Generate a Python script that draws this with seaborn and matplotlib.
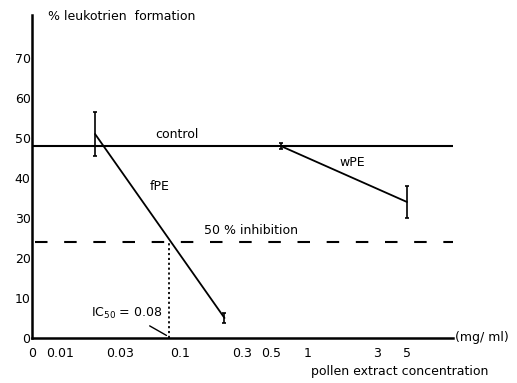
import numpy as np
import pandas as pd
import matplotlib
matplotlib.use("Agg")
import matplotlib.pyplot as plt
import seaborn as sns

# ---- data ----
tick_values = [0, 0.01, 0.03, 0.1, 0.3, 0.5, 1, 3, 5]
tick_labels = ["0", "0.01", "0.03", "0.1", "0.3", "0.5", "1", "3", "5"]
y_ticks = [0, 10, 20, 30, 40, 50, 60, 70]

fpe_conc = [0.019, 0.22]
fpe_val = [51, 5]
fpe_err = [5.5, 1.2]

wpe_conc = [0.6, 5]
wpe_val = [48, 34]
wpe_err = [0.8, 4.0]

control = 48
half_inhibition = 24
ic50 = 0.08

# ---- hand-drawn concentration axis (positions of the printed ticks) ----
anchor_vals = np.array([0.01, 0.03, 0.1, 0.3, 0.5, 1, 3, 5, 100])
anchor_pos = np.array([60, 120, 180, 242, 271, 308, 377, 407, 576], dtype=float)
anchor_log = np.log10(anchor_vals)


def fwd(x):
    x = np.asarray(x, dtype=float)
    lx = np.log10(np.maximum(x, 0.01))
    out = np.interp(lx, anchor_log, anchor_pos, left=anchor_pos[0], right=anchor_pos[-1])
    lin = 32 + 28 * (x / 0.01)
    return np.where(x < 0.01, lin, out)


def inv(p):
    p = np.asarray(p, dtype=float)
    out = 10 ** np.interp(p, anchor_pos, anchor_log)
    lin = (p - 32) / 28 * 0.01
    return np.where(p < 60, lin, out)


sns.set_theme(style="white")
plt.rcParams["font.family"] = ["DejaVu Sans"]
plt.rcParams["text.color"] = "black"
FS = 9

W, H = 517, 383
fig = plt.figure(figsize=(W / 100, H / 100), dpi=100)
ax = fig.add_axes([32 / W, 45 / H, (453 - 32) / W, (338 - 15) / H])
ax.set_xscale("function", functions=(fwd, inv))
ax.set_xlim(0, 11.3)
ax.set_ylim(0, 80.75)

df_f = pd.DataFrame({"conc": fpe_conc, "val": fpe_val})
df_w = pd.DataFrame({"conc": wpe_conc, "val": wpe_val})
sns.lineplot(data=df_f, x="conc", y="val", ax=ax, color="black", lw=1.3)
sns.lineplot(data=df_w, x="conc", y="val", ax=ax, color="black", lw=1.3)
ax.errorbar(fpe_conc, fpe_val, yerr=fpe_err, fmt="none", ecolor="black",
            elinewidth=1.2, capsize=1.5, capthick=1.2)
ax.errorbar(wpe_conc, wpe_val, yerr=wpe_err, fmt="none", ecolor="black",
            elinewidth=1.2, capsize=1.5, capthick=1.2)

ax.axhline(control, color="black", lw=1.5)
ax.axhline(half_inhibition, xmin=0.008, xmax=1.0, color="black", lw=1.5,
           linestyle=(0, (6, 8)))
ax.vlines(ic50, 0, half_inhibition, color="black", lw=1.3, linestyles=(0, (1.2, 1.5)))


def fpx(x, y):
    return (x / W, 1 - y / H)


ax.annotate("IC$_{50}$ = 0.08", xy=(ic50, 0.3), xytext=fpx(127, 313),
            textcoords="figure fraction", ha="center", va="center", fontsize=FS,
            color="black",
            arrowprops=dict(arrowstyle="-", color="black", lw=1.0,
                            shrinkA=3, shrinkB=2))

fig.text(*fpx(177, 134), "control", fontsize=FS, ha="center", va="center")
fig.text(*fpx(160, 187), "fPE", fontsize=FS, ha="center", va="center")
fig.text(*fpx(352, 162), "wPE", fontsize=FS, ha="center", va="center")
fig.text(*fpx(251, 230), "50 % inhibition", fontsize=FS, ha="center", va="center")

ax.set_xticks(tick_values)
ax.set_xticklabels(tick_labels)
ax.set_yticks(y_ticks)
ax.tick_params(axis="both", length=0, labelsize=FS, colors="black")
ax.tick_params(axis="x", pad=6.5)
ax.tick_params(axis="y", pad=1)
ax.minorticks_off()

for s in ["top", "right"]:
    ax.spines[s].set_visible(False)
for s in ["left", "bottom"]:
    ax.spines[s].set_color("black")
    ax.spines[s].set_linewidth(1.8)

ax.set_xlabel("")
ax.set_ylabel("")
fig.text(*fpx(48, 17), "% leukotrien  formation", fontsize=FS, ha="left", va="center")
fig.text(*fpx(455, 338), "(mg/ ml)", fontsize=FS, ha="left", va="center")
fig.text(*fpx(400, 372), "pollen extract concentration", fontsize=FS,
         ha="center", va="center")

fig.savefig("out.png", dpi=100)
